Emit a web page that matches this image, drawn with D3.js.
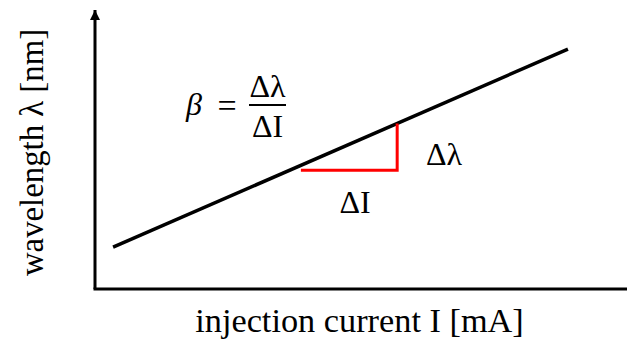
<!DOCTYPE html>
<html>
<head>
<meta charset="utf-8">
<script src="https://cdn.jsdelivr.net/npm/d3@7"></script>
<style>
  html, body { margin: 0; padding: 0; background: #fff; }
  svg { display: block; }
  text { font-family: "Liberation Serif", "Times New Roman", serif; fill: #000; }
</style>
</head>
<body>
<svg id="chart" width="627" height="349"></svg>
<script>
// Tuning curve: wavelength vs. injection current (arbitrary units, 0–100)
const lineCurrent = [3.4, 88.9];
const lineWavelength = [15.0, 86.0];

// Slope triangle: ΔI along the current axis, Δλ along the wavelength axis
const deltaCurrent = [38.7, 56.8];
const deltaWavelength = [42.6, 59.3];

const xAxisLabel = "injection current I [mA]";
const yAxisLabel = "wavelength λ [nm]";

const W = 627, H = 349;
const svg = d3.select("#chart");

const x = d3.scaleLinear().domain([0, 100]).range([95, 627]);
const y = d3.scaleLinear().domain([0, 100]).range([289, 10]);

// Arrow marker for the wavelength axis
svg.append("defs").append("marker")
  .attr("id", "arrow")
  .attr("viewBox", "0 0 10 10")
  .attr("refX", 10).attr("refY", 5)
  .attr("markerUnits", "userSpaceOnUse")
  .attr("markerWidth", 10).attr("markerHeight", 11)
  .attr("orient", "auto")
  .append("path")
  .attr("d", "M0,0 L10,5 L0,10 Z")
  .attr("fill", "#000");

// Axes
svg.append("line")
  .attr("x1", x(0)).attr("y1", y(0))
  .attr("x2", x(0)).attr("y2", y(100))
  .attr("stroke", "#000").attr("stroke-width", 3)
  .attr("marker-end", "url(#arrow)");

svg.append("line")
  .attr("x1", x(0) - 1.5).attr("y1", y(0))
  .attr("x2", x(100)).attr("y2", y(0))
  .attr("stroke", "#000").attr("stroke-width", 3);

// Linear tuning line
const lineGen = d3.line().x(d => x(d[0])).y(d => y(d[1]));
svg.append("path")
  .datum(d3.zip(lineCurrent, lineWavelength))
  .attr("d", lineGen)
  .attr("fill", "none")
  .attr("stroke", "#000")
  .attr("stroke-width", 3.5);

// Slope triangle (red)
svg.append("path")
  .datum([
    [deltaCurrent[0], deltaWavelength[0]],
    [deltaCurrent[1], deltaWavelength[0]],
    [deltaCurrent[1], deltaWavelength[1]]
  ])
  .attr("d", lineGen)
  .attr("fill", "none")
  .attr("stroke", "#ff0000")
  .attr("stroke-width", 3)
  .attr("stroke-linejoin", "miter");

// Δ labels
svg.append("text")
  .attr("x", 355).attr("y", 213)
  .attr("text-anchor", "middle")
  .attr("font-size", 32)
  .text("ΔI");

svg.append("text")
  .attr("x", 444).attr("y", 165)
  .attr("text-anchor", "middle")
  .attr("font-size", 32)
  .text("Δλ");

// Formula β = Δλ / ΔI
const f = svg.append("g");
f.append("text")
  .attr("x", 194).attr("y", 115)
  .attr("text-anchor", "middle")
  .attr("font-size", 32)
  .attr("font-style", "italic")
  .text("β");
f.append("text")
  .attr("x", 227).attr("y", 117)
  .attr("text-anchor", "middle")
  .attr("font-size", 34)
  .text("=");
f.append("line")
  .attr("x1", 249).attr("x2", 286)
  .attr("y1", 105).attr("y2", 105)
  .attr("stroke", "#000").attr("stroke-width", 2);
f.append("text")
  .attr("x", 267.5).attr("y", 97)
  .attr("text-anchor", "middle")
  .attr("font-size", 32)
  .text("Δλ");
f.append("text")
  .attr("x", 267.5).attr("y", 137)
  .attr("text-anchor", "middle")
  .attr("font-size", 32)
  .text("ΔI");

// Axis titles
svg.append("text")
  .attr("x", 359.5).attr("y", 332)
  .attr("text-anchor", "middle")
  .attr("font-size", 34.3)
  .text(xAxisLabel);

svg.append("text")
  .attr("transform", "translate(43,152.5) rotate(-90)")
  .attr("text-anchor", "middle")
  .attr("font-size", 32.8)
  .text(yAxisLabel);
</script>
</body>
</html>
